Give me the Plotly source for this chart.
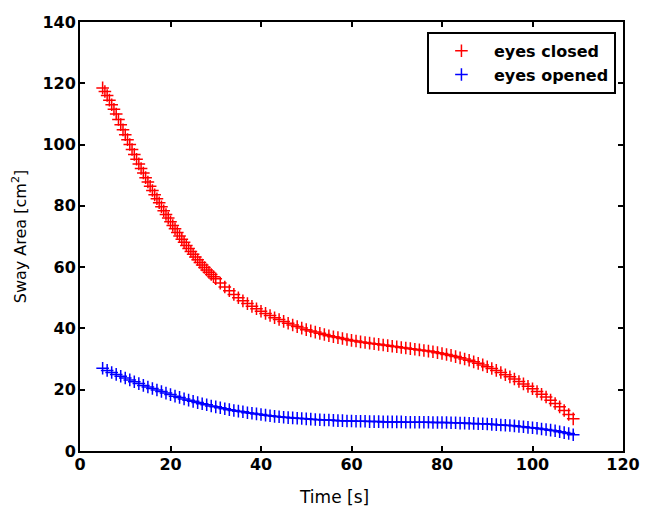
import plotly.graph_objects as go

time_closed = [5, 5.5, 6, 6.5, 7, 7.5, 8, 8.5, 9, 9.5, 10, 10.5, 11, 11.5, 12, 12.5,
               13, 13.5, 14, 14.5, 15, 15.5, 16, 16.5, 17, 17.5, 18, 18.5, 19, 19.5,
               20, 20.5, 21, 21.5, 22, 22.5, 23, 23.5, 24, 24.5, 25, 25.5, 26, 26.5,
               27, 27.5, 28, 28.5, 29, 29.5, 30,
               31, 32, 33, 34, 35, 36, 37, 38, 39, 40, 41, 42, 43, 44,
               45, 46, 47, 48, 49, 50, 51, 52, 53, 54, 55, 56, 57, 58, 59, 60, 61, 62, 63, 64,
               65, 66, 67, 68, 69, 70, 71, 72, 73, 74, 75, 76, 77, 78, 79, 80, 81, 82, 83, 84,
               85, 86, 87, 88, 89, 90, 91, 92, 93, 94, 95, 96, 97, 98, 99, 100, 101, 102, 103, 104,
               105, 106, 107, 108, 109]

eyes_closed = [118.5, 117.3, 116, 114.5, 113, 111.5, 110, 108.2, 106.5, 104.8,
               103.2, 101.6, 100, 98.4, 96.8, 95.2, 93.7, 92.2, 90.7, 89.2,
               87.8, 86.4, 85, 83.6, 82.3, 81, 79.7, 78.4, 77.2, 76,
               74.8, 73.6, 72.5, 71.3, 70.2, 69.1, 68.1, 67.1, 66.1, 65.1,
               64.2, 63.3, 62.4, 61.5, 60.7, 59.9, 59.1, 58.3, 57.6, 56.9, 56.2,
               54.8, 53.5, 52.3, 51.1,
               50, 49, 48.1, 47.2, 46.4, 45.6, 44.9, 44.2, 43.5, 42.9,
               42.3, 41.7, 41.1, 40.6, 40.1, 39.6, 39.2, 38.8, 38.4, 38,
               37.6, 37.3, 37, 36.7, 36.4, 36.1, 35.9, 35.6, 35.4, 35.2,
               35, 34.8, 34.6, 34.4, 34.2, 34, 33.8, 33.6, 33.4, 33.2,
               33, 32.8, 32.6, 32.4, 32.1, 31.8, 31.5, 31.2, 30.8, 30.4,
               30, 29.6, 29.1, 28.6, 28.1, 27.5, 26.9, 26.3, 25.6, 24.9,
               24.2, 23.5, 22.7, 21.9, 21.1, 20.3, 19.4, 18.5, 17.6, 16.6,
               15.5, 14.4, 13.2, 11.9, 10.5]

time_opened = [5, 6, 7, 8, 9, 10, 11, 12, 13, 14, 15, 16, 17, 18, 19, 20, 21, 22, 23, 24,
               25, 26, 27, 28, 29, 30, 31, 32, 33, 34, 35, 36, 37, 38, 39, 40, 41, 42, 43, 44,
               45, 46, 47, 48, 49, 50, 51, 52, 53, 54, 55, 56, 57, 58, 59, 60, 61, 62, 63, 64,
               65, 66, 67, 68, 69, 70, 71, 72, 73, 74, 75, 76, 77, 78, 79, 80, 81, 82, 83, 84,
               85, 86, 87, 88, 89, 90, 91, 92, 93, 94, 95, 96, 97, 98, 99, 100, 101, 102, 103, 104,
               105, 106, 107, 108, 109]

eyes_opened = [27, 26.3, 25.6, 25, 24.4, 23.8, 23.2, 22.6, 22, 21.4,
               20.9, 20.4, 19.9, 19.4, 18.9, 18.4, 17.9, 17.5, 17, 16.6,
               16.2, 15.8, 15.4, 15.1, 14.7, 14.4, 14.1, 13.8, 13.5, 13.2,
               13, 12.8, 12.5, 12.3, 12.1, 11.9, 11.7, 11.5, 11.3, 11.2,
               11, 10.9, 10.8, 10.7, 10.6, 10.5, 10.4, 10.3, 10.2, 10.1,
               10.1, 10, 9.9, 9.9, 9.8, 9.8, 9.7, 9.7, 9.7, 9.6,
               9.6, 9.6, 9.5, 9.5, 9.5, 9.5, 9.5, 9.4, 9.4, 9.4,
               9.4, 9.4, 9.4, 9.3, 9.3, 9.3, 9.3, 9.2, 9.2, 9.1,
               9.1, 9, 9, 8.9, 8.9, 8.8, 8.7, 8.6, 8.5, 8.4,
               8.3, 8.2, 8, 7.9, 7.7, 7.6, 7.4, 7.2, 7, 6.8,
               6.6, 6.3, 6, 5.7, 5.3]

x_ticks = [0, 20, 40, 60, 80, 100, 120]
y_ticks = [0, 20, 40, 60, 80, 100, 120, 140]

fig = go.Figure()
fig.add_trace(go.Scatter(
    x=time_closed, y=eyes_closed, mode="markers", name="eyes closed",
    marker=dict(symbol="cross-thin", size=9, line=dict(color="#ff0000", width=1.5), color="#ff0000"),
))
fig.add_trace(go.Scatter(
    x=time_opened, y=eyes_opened, mode="markers", name="eyes opened",
    marker=dict(symbol="cross-thin", size=9, line=dict(color="#0000ff", width=1.5), color="#0000ff"),
))

axis_common = dict(
    showgrid=False, zeroline=False, showline=True, linecolor="black", linewidth=2,
    mirror="allticks", ticks="inside", ticklen=5, tickwidth=2, tickcolor="black",
    automargin=False,
    tickfont=dict(family="DejaVu Sans", size=16, color="black", weight="bold"),
)

# the page body adds an 8px offset, so margins are trimmed accordingly
fig.update_layout(
    width=657, height=512,
    paper_bgcolor="white", plot_bgcolor="white",
    margin=dict(l=72, r=42, t=14, b=69),
    xaxis=dict(range=[0, 120], tickvals=x_ticks, ticktext=[str(v) for v in x_ticks],
               ticklabelstandoff=-2, **axis_common),
    yaxis=dict(range=[0, 140], tickvals=y_ticks, ticktext=[str(v) for v in y_ticks],
               title=dict(text="Sway Area [cm<sup>2</sup>]", font=dict(family="DejaVu Sans", size=16, color="black"), standoff=12),
               ticklabelstandoff=-1, **axis_common),
    legend=dict(x=0.987, y=0.977, xanchor="right", yanchor="top",
                bgcolor="white", bordercolor="black", borderwidth=2,
                font=dict(family="DejaVu Sans", size=16, color="black", weight="bold"),
                itemwidth=55),
    showlegend=True,
    annotations=[dict(text="Time [s]", xref="paper", yref="paper", x=0.468, y=-0.107,
                      xanchor="center", yanchor="middle", showarrow=False,
                      font=dict(family="DejaVu Sans", size=17, color="black"))],
)

fig.write_html("out.html")
